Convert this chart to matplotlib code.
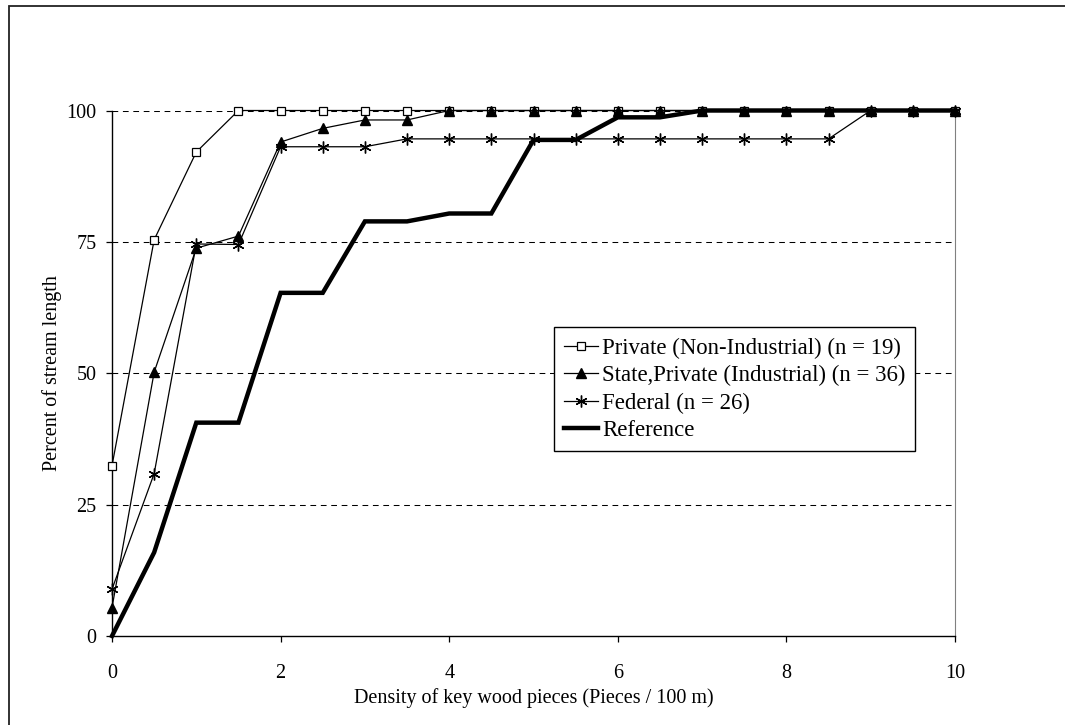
import numpy as np
import matplotlib
matplotlib.use("Agg")
import matplotlib.pyplot as plt
from matplotlib.patches import Rectangle

plt.rcParams["font.family"] = ["Liberation Serif", "DejaVu Serif"]

# density classes (pieces / 100 m)
density = [0, 0.5, 1, 1.5, 2, 2.5, 3, 3.5, 4, 4.5, 5,
           5.5, 6, 6.5, 7, 7.5, 8, 8.5, 9, 9.5, 10]

# cumulative percent of stream length per ownership class
private_nonind = [32.4, 75.4, 92.1, 100, 100, 100, 100, 100, 100, 100, 100,
                  100, 100, 100, 100, 100, 100, 100, 100, 100, 100]
state_private_ind = [5.4, 50.2, 73.8, 76.1, 94.0, 96.6, 98.2, 98.2, 100, 100, 100,
                     100, 100, 100, 100, 100, 100, 100, 100, 100, 100]
federal = [8.9, 30.9, 74.6, 74.5, 93.1, 93.1, 93.1, 94.6, 94.6, 94.6, 94.6,
           94.6, 94.6, 94.6, 94.6, 94.6, 94.6, 94.6, 100, 100, 100]
reference = [0, 15.9, 40.6, 40.6, 65.3, 65.3, 78.9, 78.9, 80.4, 80.4, 94.4,
             94.4, 98.7, 98.7, 100, 100, 100, 100, 100, 100, 100]

labels = ["Private (Non-Industrial) (n = 19)",
          "State,Private (Industrial) (n = 36)",
          "Federal (n = 26)",
          "Reference"]

W, H = 1065, 725
fig = plt.figure(figsize=(W / 100, H / 100), dpi=100)
ax = fig.add_axes([112 / W, 1 - 636 / H, (955 - 112) / W, (636 - 110.5) / H])

# outer border around the chart area
fig.patches.append(Rectangle((9 / W, -0.05), 1.2, 1 - 6 / H + 0.05,
                             transform=fig.transFigure, fill=False,
                             edgecolor="#222222", linewidth=1.3))

for yv in [25, 50, 75, 100]:
    ax.axhline(yv, color="black", linewidth=0.75, dashes=(5.5, 4.5), zorder=1)

ax.plot(density, private_nonind, color="black", linewidth=0.9,
        marker="s", markersize=6, markerfacecolor="white",
        markeredgecolor="black", markeredgewidth=0.9, clip_on=False,
        label=labels[0], zorder=3)
ax.plot(density, state_private_ind, color="black", linewidth=0.9,
        marker="^", markersize=7, markerfacecolor="black",
        markeredgecolor="black", clip_on=False, label=labels[1], zorder=4)
ax.plot(density, federal, color="black", linewidth=0.9,
        marker=(6, 2, 0), markersize=8.5, markeredgewidth=1.0,
        clip_on=False, label=labels[2], zorder=5)
ax.plot(density, reference, color="black", linewidth=3.2,
        solid_joinstyle="miter", clip_on=False, label=labels[3], zorder=6)

ax.set_xlim(0, 10)
ax.set_ylim(0, 100)
ax.set_xticks([0, 2, 4, 6, 8, 10])
ax.set_yticks([0, 25, 50, 75, 100])

ax.spines["top"].set_visible(False)
ax.spines["right"].set_color("#808080")
ax.spines["left"].set_linewidth(1.0)
ax.spines["bottom"].set_linewidth(1.0)

ax.tick_params(axis="x", direction="out", length=4.5, width=0.9, pad=16,
               labelsize=14.5)
ax.tick_params(axis="y", direction="out", length=4.5, width=0.9, pad=6.5,
               labelsize=14.5)

ax.set_xlabel("Density of key wood pieces (Pieces / 100 m)", fontsize=14.5)
ax.xaxis.set_label_coords(0.5, -0.1)
ax.set_ylabel("Percent of stream length", fontsize=14.5)
ax.yaxis.set_label_coords(-0.059, 0.5)

leg = ax.legend(loc="upper left", bbox_to_anchor=(0.5243, 0.5875),
                borderaxespad=0, fontsize=16.4, frameon=True, fancybox=False,
                edgecolor="black", framealpha=1, handlelength=1.5,
                handletextpad=0.15, labelspacing=0.28, borderpad=0.45)
leg.get_frame().set_linewidth(1.0)

fig.savefig("out.png", dpi=100)
